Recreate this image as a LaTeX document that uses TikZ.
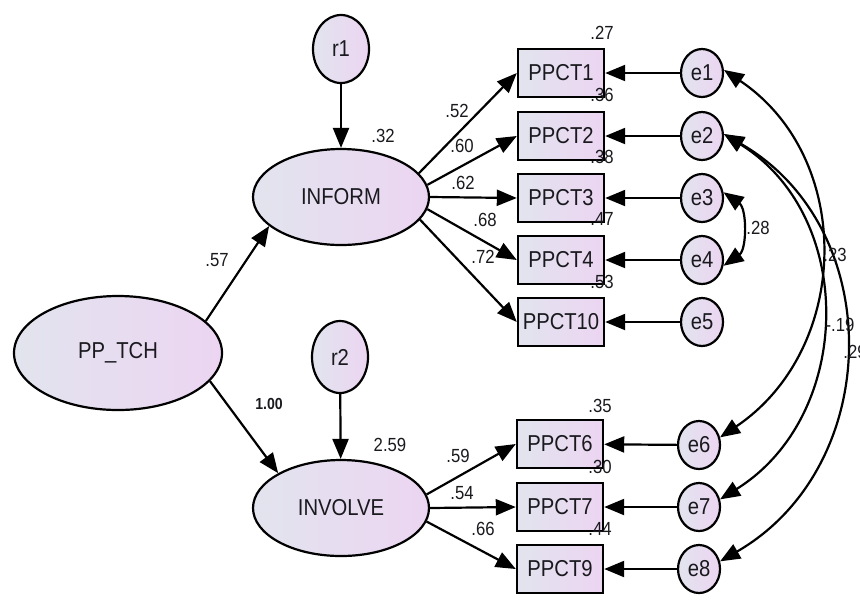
\documentclass[tikz,border=0pt]{standalone}
\usepackage{fontspec}
\setmainfont{Liberation Sans}[FakeStretch=0.88]
\usetikzlibrary{shapes.geometric,arrows.meta}

\definecolor{fillL}{RGB}{226,228,238}
\definecolor{fillR}{RGB}{236,213,242}
\definecolor{ink}{RGB}{25,25,30}

\begin{document}
\begin{tikzpicture}[x=0.5pt,y=-0.5pt,
  gradfill/.style={left color=fillL, right color=fillR, draw=black, text=ink, inner sep=0pt},
  nodefont/.style={font=\fontsize{11.5}{13}\selectfont},
  latent/.style={gradfill, nodefont, ellipse, line width=1.1pt, minimum width=88pt, minimum height=48pt},
  resid/.style={gradfill, nodefont, ellipse, line width=1.1pt, minimum width=28pt, minimum height=35pt},
  err/.style={gradfill, nodefont, ellipse, line width=1.1pt, minimum width=21pt, minimum height=24pt},
  obs/.style={gradfill, nodefont, rectangle, line width=1.2pt, minimum width=43pt, minimum height=24pt},
  lab/.style={font=\fontsize{9.5}{11}\selectfont, text=ink, inner sep=0pt},
  reg/.style={line width=1.1pt, -{Triangle[length=10pt,width=8pt]}},
  cov/.style={line width=1.1pt, {Triangle[length=10pt,width=8pt]}-{Triangle[length=10pt,width=8pt]}}
]
\useasboundingbox (0,0) rectangle (860,612);

% latent variables and their disturbances
\node[latent, minimum width=104pt, minimum height=57pt] (PP) at (118,353) {PP\_TCH};
\node[latent] (INFORM) at (341,197) {INFORM};
\node[latent] (INVOLVE) at (341,508) {INVOLVE};
\node[resid, minimum height=34pt] (r1) at (341,49) {r1};
\node[resid, minimum height=36pt] (r2) at (340,357) {r2};

% indicators
\node[obs] (P1) at (561,73) {PPCT1};
\node[obs] (P2) at (561,136) {PPCT2};
\node[obs] (P3) at (561,198) {PPCT3};
\node[obs] (P4) at (561,260) {PPCT4};
\node[obs] (P10) at (561,322) {PPCT10};
\node[obs] (P6) at (560,444) {PPCT6};
\node[obs] (P7) at (560,507) {PPCT7};
\node[obs] (P9) at (560,569) {PPCT9};

% measurement errors
\node[err] (e1) at (702,73) {e1};
\node[err] (e2) at (702,136) {e2};
\node[err] (e3) at (702,198) {e3};
\node[err] (e4) at (702,260) {e4};
\node[err] (e5) at (702,322) {e5};
\node[err] (e6) at (699,445) {e6};
\node[err] (e7) at (699,507) {e7};
\node[err] (e8) at (699,569) {e8};

% structural paths
\draw[reg] (r1) -- (INFORM);
\draw[reg] (r2) -- (INVOLVE);
\draw[reg] (PP.20) -- (INFORM.-158);
\draw[reg] (PP.-17) -- (INVOLVE.151);

% loadings
\draw[reg] (INFORM.17) -- (P1.west);
\draw[reg] (INFORM.8) -- (P2.west);
\draw[reg] (INFORM.0) -- (P3.west);
\draw[reg] (INFORM.-8) -- (P4.west);
\draw[reg] (INFORM.-16) -- (P10.west);
\draw[reg] (INVOLVE.9) -- (P6.west);
\draw[reg] (INVOLVE.0) -- (P7.west);
\draw[reg] (INVOLVE.-9) -- (P9.west);

% error terms
\foreach \e/\p in {e1/P1,e2/P2,e3/P3,e4/P4,e5/P10,e6/P6,e7/P7,e8/P9}
  \draw[reg] (\e) -- (\p);

% error covariances
\draw[cov] (e3.15) to[out=-35,in=35] (e4.-15);
\draw[cov] (e1.8) to[out=-34,in=34,looseness=1.1] (e6.20);
\draw[cov] (e2.5) to[out=-32,in=32,looseness=1.1] (e7.20);
\draw[cov] (e2.5) to[out=-30,in=30,looseness=1.13] (e8.20);

% squared multiple correlations
\node[lab] (s1) at (602,33) {.27};
\node[lab] (s2) at (602,95) {.36};
\node[lab] (s3) at (602,157) {.38};
\node[lab] (s4) at (602,219) {.47};
\node[lab] (s10) at (602,282) {.53};
\node[lab] (s6) at (600,406) {.35};
\node[lab] (s7) at (600,467) {.30};
\node[lab] (s9) at (600,529) {.44};
\node[lab] (sInf) at (383,136) {.32};
\node[lab] (sInv) at (390,445) {2.59};

% path coefficients
\node[lab] (c1) at (457,111) {.52};
\node[lab] (c2) at (462,146) {.60};
\node[lab] (c3) at (463,183) {.62};
\node[lab] (c4) at (485,220) {.68};
\node[lab] (c10) at (483,257) {.72};
\node[lab] (c6) at (458,456) {.59};
\node[lab] (c7) at (462,493) {.54};
\node[lab] (c9) at (483,529) {.66};
\node[lab] (cInf) at (217,260) {.57};
\node[lab, font=\fontsize{8}{9}\selectfont\bfseries] (cInv) at (269,404) {1.00};

% covariance values
\node[lab] (k34) at (758,228) {.28};
\node[lab] (k16) at (835,255) {.23};
\node[lab] (k27) at (840,325) {-.19};
\node[lab] (k28) at (855,352) {.29};
\end{tikzpicture}
\end{document}
